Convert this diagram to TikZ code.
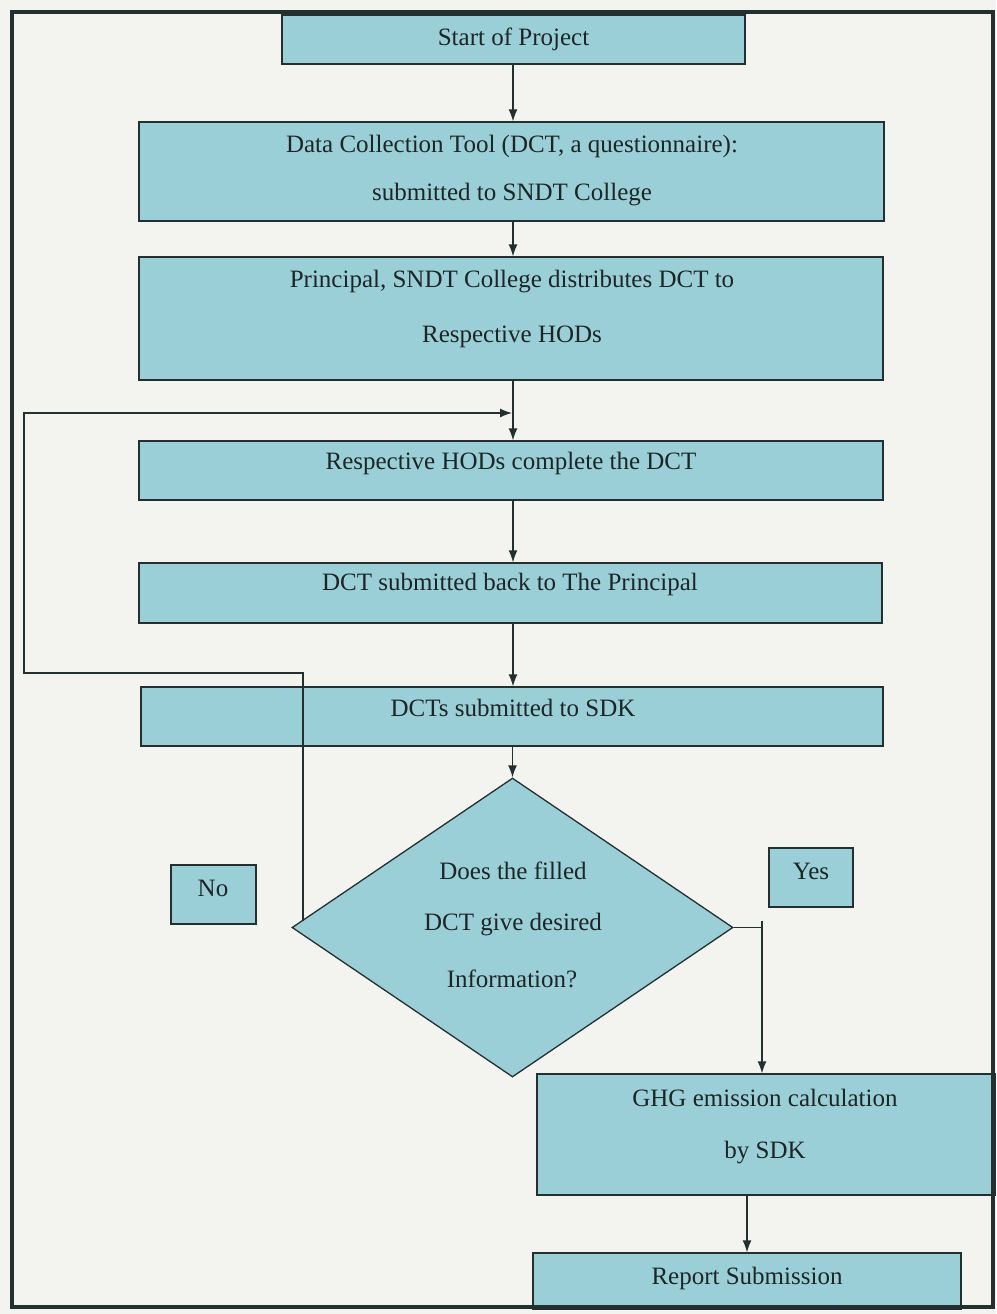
\documentclass[tikz,border=0pt]{standalone}
\usepackage{fontspec}
\setmainfont{Liberation Serif}
\usetikzlibrary{arrows.meta,shapes.geometric}
\definecolor{bgc}{HTML}{F3F3F0}
\definecolor{boxfill}{HTML}{9BCFD8}
\definecolor{linec}{HTML}{24302F}
\definecolor{txt}{HTML}{1C2626}
\begin{document}
\begin{tikzpicture}[x=1pt,y=-1pt,
  box/.style={draw=linec, fill=boxfill, line width=1.3pt, inner sep=0pt},
  lbl/.style={font=\fontsize{25}{30}\selectfont, text=txt, inner sep=0pt},
  arr/.style={draw=linec, line width=1.3pt, -{Latex[length=12pt,width=9pt]}},
  ln/.style={draw=linec, line width=1.3pt}]
\fill[bgc] (0,0) rectangle (996,1314);
\useasboundingbox (0,0) rectangle (996,1314);

% boxes
\node[box, minimum width=463pt, minimum height=49pt] (start) at (513.5,39.5) {};
\node[box, minimum width=745pt, minimum height=99pt] (dct) at (511.5,171.5) {};
\node[box, minimum width=744pt, minimum height=123pt] (prin) at (511,318.5) {};
\node[box, minimum width=744pt, minimum height=59pt] (hods) at (511,470.5) {};
\node[box, minimum width=743pt, minimum height=60pt] (back) at (510.5,593) {};
\node[box, minimum width=742pt, minimum height=59pt] (sdk) at (512,716.5) {};
\node[box, shape=diamond, minimum width=441pt, minimum height=299pt] (dec) at (512.5,927.5) {};
\node[box, minimum width=85pt, minimum height=59pt] (no) at (213.5,894.5) {};
\node[box, minimum width=84pt, minimum height=59pt] (yes) at (811,877.5) {};
\node[box, minimum width=458pt, minimum height=121pt] (ghg) at (766,1134.5) {};
\node[box, minimum width=428pt, minimum height=56pt] (rep) at (747,1281) {};

% texts
\node[lbl] (tstart) at (513.5,39) {Start of Project};
\node[lbl] (tdct1) at (512,146) {Data Collection Tool (DCT, a questionnaire):};
\node[lbl] (tdct2) at (512,195) {submitted to SNDT College};
\node[lbl] (tprin1) at (512,282) {Principal, SNDT College distributes DCT to};
\node[lbl] (tprin2) at (512,337) {Respective HODs};
\node[lbl] (thods) at (511,463) {Respective HODs complete the DCT};
\node[lbl] (tback) at (510,584) {DCT submitted back to The Principal};
\node[lbl] (tsdk) at (513,708) {DCTs submitted to SDK};
\node[lbl] (tdec1) at (513,871) {Does the filled};
\node[lbl] (tdec2) at (513,925) {DCT give desired};
\node[lbl] (tdec3) at (512,979) {Information?};
\node[lbl] (tno) at (213,888) {No};
\node[lbl] (tyes) at (811,871) {Yes};
\node[lbl] (tghg1) at (765,1098) {GHG emission calculation};
\node[lbl] (tghg2) at (765,1153) {by SDK};
\node[lbl] (trep) at (747,1278) {Report Submission};

% connectors
\coordinate (c1) at (513,64);
\draw[arr] (c1) -- (c1 |- dct.north);
\coordinate (c2) at (513,221);
\draw[arr] (c2) -- (c2 |- prin.north);
\coordinate (c3) at (513,380);
\draw[arr] (c3) -- (c3 |- hods.north);
\coordinate (c4) at (513,500);
\draw[arr] (c4) -- (c4 |- back.north);
\coordinate (c5) at (513,623);
\draw[arr] (c5) -- (c5 |- sdk.north);
\coordinate (c6) at (512.5,746);
\draw[arr] (c6) -- (dec.north);

% No loop
\coordinate (loopstart) at (303,920.5);
\coordinate (join) at (512,413);
\draw[arr] (loopstart) -- (303,673) -- (24,673) -- (24,413) -- (join);

% Yes branch
\coordinate (ybend) at (762,927.5);
\draw[ln] (762,921) -- (ybend);
\draw[arr] (dec.east) -- (ybend) -- (ybend |- ghg.north);

\coordinate (c7) at (747,1195);
\draw[arr] (c7) -- (c7 |- rep.north);

% outer frame
\draw[draw=linec, line width=3.2pt] (12,12) rectangle (993,1307);
\end{tikzpicture}
\end{document}
